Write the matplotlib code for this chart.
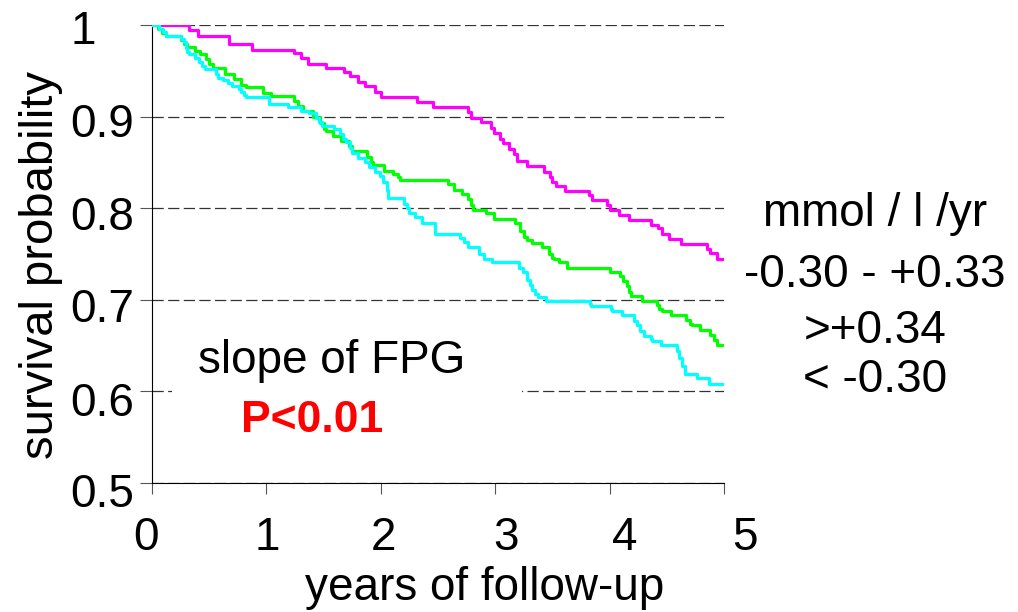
import matplotlib
matplotlib.use("Agg")
import matplotlib.pyplot as plt
import matplotlib.transforms as mtransforms
from matplotlib.patches import Rectangle

plt.rcParams['font.family'] = ['Liberation Sans', 'DejaVu Sans']

# survival curves (step functions)
t_mid = [0, 0.32, 0.40, 0.67, 0.87, 1.24, 1.30, 1.36, 1.52, 1.68, 1.73, 1.80, 1.86, 1.95, 2.00,
         2.32, 2.46, 2.76, 2.79, 2.88, 2.96, 2.99, 3.04, 3.07, 3.12, 3.16, 3.19, 3.28, 3.43, 3.48,
         3.50, 3.53, 3.61, 3.82, 3.85, 3.98, 4.00, 4.08, 4.17, 4.36, 4.42, 4.46, 4.52, 4.62, 4.85,
         4.88, 4.94, 5.0]
s_mid = [1.0, 0.995, 0.988, 0.979, 0.973, 0.969, 0.964, 0.957, 0.953, 0.949, 0.944, 0.938, 0.933, 0.927, 0.921,
         0.916, 0.910, 0.905, 0.899, 0.894, 0.888, 0.882, 0.876, 0.871, 0.865, 0.859, 0.852, 0.846, 0.840, 0.834,
         0.829, 0.824, 0.819, 0.814, 0.809, 0.803, 0.798, 0.793, 0.787, 0.782, 0.778, 0.772, 0.766, 0.761, 0.756,
         0.751, 0.745, 0.745]

t_high = [0, 0.05, 0.09, 0.12, 0.25, 0.28, 0.31, 0.38, 0.42, 0.47, 0.50, 0.53, 0.64, 0.72, 0.78, 0.82,
          0.97, 1.04, 1.24, 1.28, 1.32, 1.41, 1.47, 1.50, 1.52, 1.58, 1.65, 1.72, 1.75, 1.88, 1.91, 1.93,
          2.03, 2.11, 2.15, 2.17, 2.59, 2.64, 2.71, 2.76, 2.79, 2.81, 2.92, 2.99, 3.17, 3.22, 3.25, 3.28,
          3.32, 3.41, 3.47, 3.50, 3.51, 3.56, 3.63, 4.00, 4.09, 4.12, 4.15, 4.17, 4.19, 4.28, 4.41, 4.43,
          4.46, 4.54, 4.67, 4.70, 4.72, 4.79, 4.88, 4.91, 4.94, 5.0]
s_high = [1.0, 0.996, 0.991, 0.988, 0.984, 0.979, 0.976, 0.972, 0.968, 0.963, 0.957, 0.953, 0.947, 0.941, 0.935, 0.932,
          0.926, 0.922, 0.917, 0.912, 0.906, 0.900, 0.893, 0.887, 0.884, 0.879, 0.873, 0.868, 0.862, 0.856, 0.850, 0.847,
          0.841, 0.837, 0.834, 0.831, 0.826, 0.820, 0.815, 0.810, 0.803, 0.798, 0.795, 0.788, 0.784, 0.775, 0.769, 0.765,
          0.762, 0.758, 0.750, 0.746, 0.744, 0.741, 0.735, 0.730, 0.726, 0.721, 0.715, 0.709, 0.704, 0.699, 0.694, 0.690,
          0.688, 0.683, 0.678, 0.674, 0.672, 0.667, 0.662, 0.656, 0.651, 0.651]

t_low = [0, 0.06, 0.10, 0.12, 0.25, 0.28, 0.30, 0.31, 0.32, 0.38, 0.41, 0.44, 0.46, 0.56, 0.58, 0.62,
         0.66, 0.70, 0.76, 0.78, 0.80, 0.82, 1.02, 1.19, 1.30, 1.37, 1.43, 1.46, 1.49, 1.59, 1.64, 1.67,
         1.70, 1.73, 1.75, 1.80, 1.86, 1.90, 1.95, 1.99, 2.02, 2.05, 2.06, 2.20, 2.23, 2.25, 2.30, 2.36,
         2.47, 2.69, 2.73, 2.76, 2.86, 2.90, 2.97, 3.21, 3.24, 3.28, 3.30, 3.32, 3.35, 3.37, 3.44, 3.83,
         3.84, 4.01, 4.02, 4.11, 4.21, 4.24, 4.27, 4.30, 4.36, 4.37, 4.45, 4.59, 4.61, 4.63, 4.66, 4.76,
         4.87, 5.0]
s_low = [1.0, 0.996, 0.992, 0.988, 0.985, 0.981, 0.975, 0.970, 0.968, 0.964, 0.960, 0.955, 0.952, 0.946, 0.942, 0.940,
         0.937, 0.933, 0.930, 0.927, 0.924, 0.921, 0.914, 0.910, 0.906, 0.904, 0.899, 0.894, 0.890, 0.886, 0.881, 0.876,
         0.872, 0.866, 0.860, 0.855, 0.850, 0.845, 0.840, 0.835, 0.829, 0.820, 0.811, 0.805, 0.800, 0.795, 0.790, 0.784,
         0.772, 0.768, 0.763, 0.758, 0.750, 0.744, 0.741, 0.735, 0.730, 0.722, 0.716, 0.711, 0.706, 0.703, 0.699, 0.695,
         0.693, 0.690, 0.688, 0.683, 0.677, 0.672, 0.666, 0.661, 0.657, 0.655, 0.651, 0.644, 0.636, 0.628, 0.619, 0.615,
         0.608, 0.608]

x_ticks = [0, 1, 2, 3, 4, 5]
y_ticks = [0.5, 0.6, 0.7, 0.8, 0.9, 1.0]
y_ticklabels = ['0.5', '0.6', '0.7', '0.8', '0.9', '1']
legend_title = 'mmol / l /yr'
group_labels = ['-0.30 - +0.33', '>+0.34', '< -0.30']

# the original tick labels sit slightly off their ticks (pixels)
x_label_shift = [-6, 1, 3, 11, 15, 21]
y_label_shift = [-7, -8, -5, -5, -3, -2]

W, H = 1018, 612
fig = plt.figure(figsize=(W / 100, H / 100), dpi=100)
ax = fig.add_axes([152 / W, 1 - 483 / H, (724 - 152) / W, (483 - 25) / H])

ax.step(t_mid, s_mid, where='post', color='#ff00ff', lw=2.3, zorder=3)
ax.step(t_high, s_high, where='post', color='#00ff00', lw=2.3, zorder=3)
ax.step(t_low, s_low, where='post', color='#00ffff', lw=2.3, zorder=3)

ax.set_xlim(0, 5)
ax.set_ylim(0.5, 1.0)
ax.set_xticks(x_ticks)
ax.set_xticklabels([str(v) for v in x_ticks])
ax.set_yticks(y_ticks)
ax.set_yticklabels(y_ticklabels, ha='left')
ax.tick_params(axis='x', length=8, width=0.8, color='#555555', labelsize=33, pad=16)
ax.tick_params(axis='y', length=9, width=0.8, color='#555555', labelsize=33, pad=50)
for sp in ['top', 'right']:
    ax.spines[sp].set_visible(False)
for sp in ['left', 'bottom']:
    ax.spines[sp].set_linewidth(0.8)

for lab, dx in zip(ax.get_xticklabels(), x_label_shift):
    lab.set_transform(lab.get_transform() + mtransforms.ScaledTranslation(dx / 100, 0, fig.dpi_scale_trans))
for lab, dy in zip(ax.get_yticklabels(), y_label_shift):
    lab.set_transform(lab.get_transform() + mtransforms.ScaledTranslation(0, dy / 100, fig.dpi_scale_trans))

# dashed horizontal gridlines
ax.set_axisbelow(True)
ax.grid(axis='y', color='#333333', lw=0.9, linestyle=(0, (9, 3.5)))

# white text box of the annotation hides part of the 0.6 line
ax.add_patch(Rectangle((0.175, 0.58), 3.06, 0.04, facecolor='white', edgecolor='none', zorder=1))

def px(x, y):
    return x / W, 1 - y / H

fig.text(*px(41, 265), 'survival probability', rotation=90, fontsize=34,
         ha='center', va='center')
fig.text(*px(485, 600), 'years of follow-up', fontsize=33, ha='center', va='baseline')

fig.text(*px(332, 373), 'slope of FPG', fontsize=33, ha='center', va='baseline')
fig.text(*px(312, 432), 'P<0.01', fontsize=32, fontweight='bold', color='red',
         ha='center', va='baseline')

fig.text(*px(875, 226), legend_title, fontsize=33, ha='center', va='baseline')
for lab, yb in zip(group_labels, [287, 343, 392]):
    fig.text(*px(875, yb), lab, fontsize=33, ha='center', va='baseline')

fig.savefig('out.png', dpi=100)
